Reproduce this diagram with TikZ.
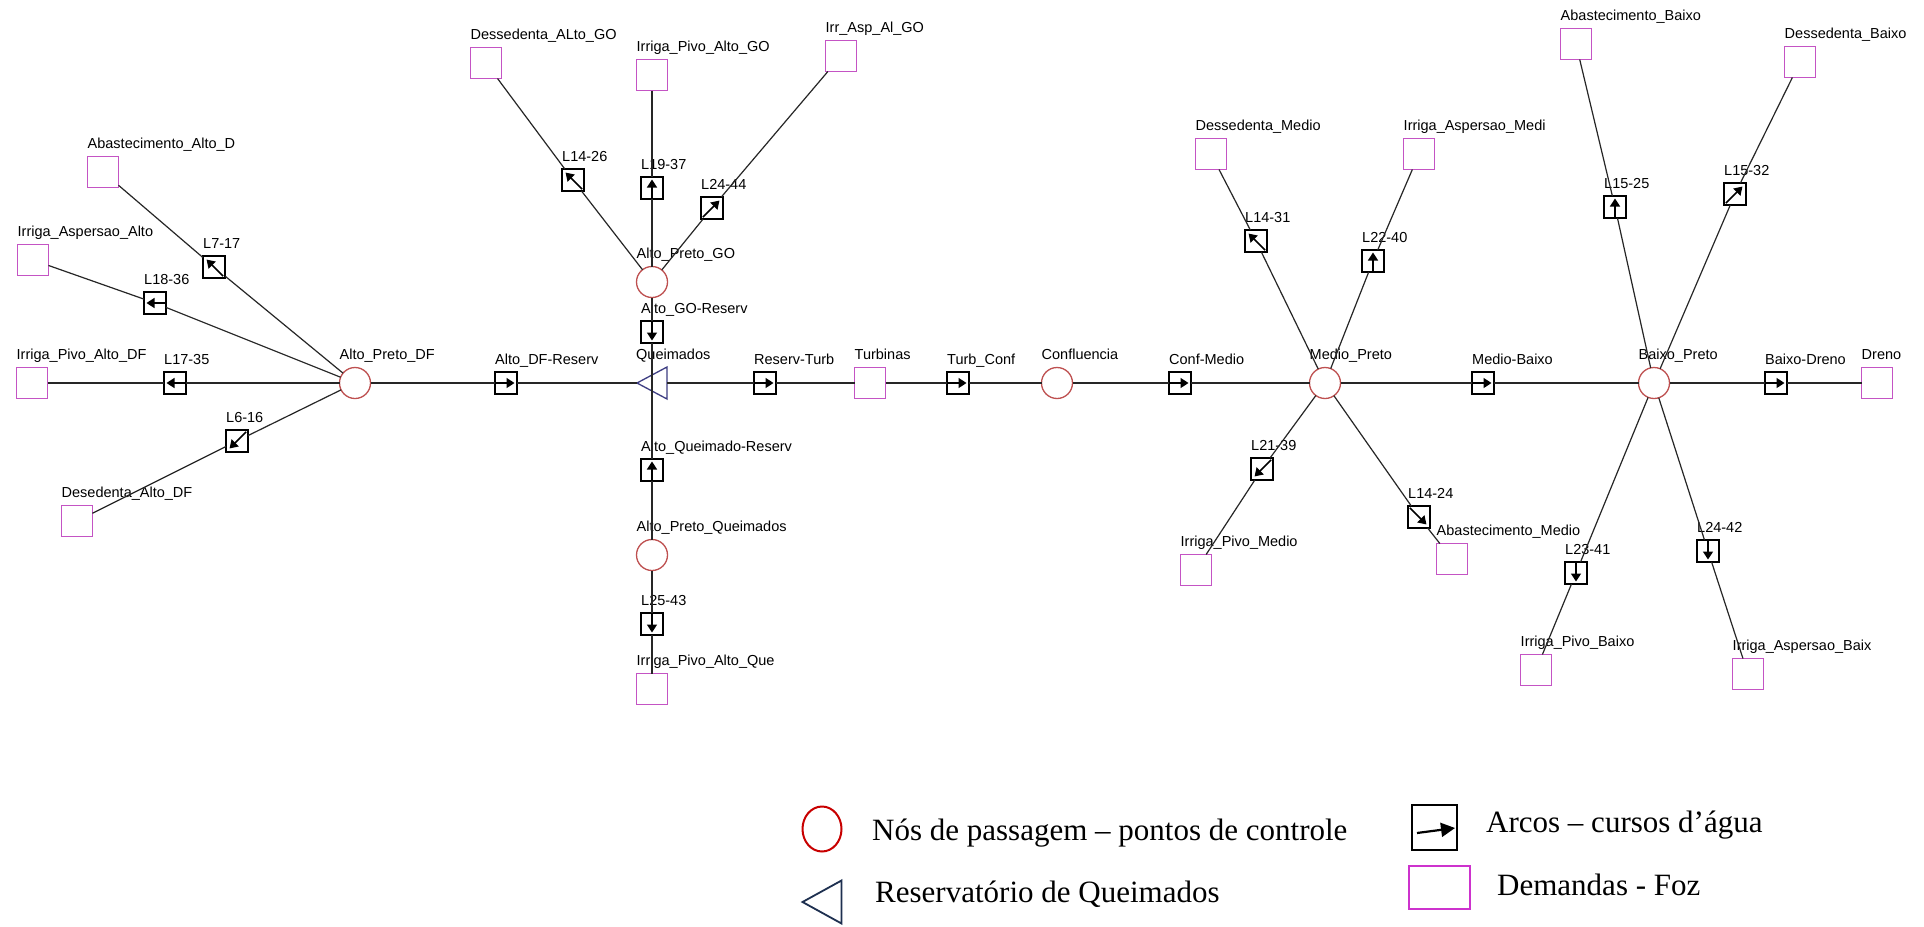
\documentclass[tikz,border=0pt]{standalone}
\usepackage{fontspec}
\setmainfont{Liberation Serif}
\newfontfamily\netfont{Liberation Sans}
\usetikzlibrary{arrows.meta,shapes.geometric}

\definecolor{demandc}{RGB}{196,84,196}
\definecolor{hubc}{RGB}{190,80,80}
\definecolor{resc}{RGB}{60,60,130}
\definecolor{legred}{RGB}{200,0,0}
\definecolor{legnavy}{RGB}{30,48,80}
\definecolor{legpink}{RGB}{205,50,205}

\tikzset{
  demand/.style={rectangle, draw=demandc, line width=1.6pt, fill=white,
    minimum size=31pt, inner sep=0pt, outer sep=0pt},
  hub/.style={circle, draw=hubc, line width=1.3pt, fill=white,
    minimum size=31pt, inner sep=0pt, outer sep=0pt},
  arcbox/.style={rectangle, draw=black, line width=1.4pt, fill=white,
    minimum size=22pt, inner sep=0pt, outer sep=0pt},
  resbox/.style={rectangle, minimum width=30pt, minimum height=32pt,
    inner sep=0pt, outer sep=0pt},
  lbl/.style={anchor=base west, inner sep=0pt,
    font=\netfont\fontsize{14.5}{16}\selectfont},
  flow/.style={line width=1.5pt, -{Triangle[length=8pt,width=10pt]}},
  link/.style={line width=1.2pt, black!85},
  legtext/.style={anchor=base west, inner sep=0pt,
    font=\fontsize{31}{36}\selectfont},
}

% demand node: name, x, y, caption
\newcommand\demandat[4]{%
  \node[demand] (#1) at (#2,#3) {};
  \node[lbl] (#1-l) at ({#2-15.5},{#3-23.5}) {#4};}
% control node (circle)
\newcommand\hubat[4]{%
  \node[hub] (#1) at (#2,#3) {};
  \node[lbl] (#1-l) at ({#2-15.5},{#3-23.5}) {#4};}
% arc box with a straight flow arrow: name, x, y, angle, caption
\newcommand\arcat[5]{%
  \node[arcbox] (#1) at (#2,#3) {};
  \draw[flow, shift={(#2,#3)}, rotate=#4] (-11,0) -- (8.5,0);
  \node[lbl] (#1-l) at ({#2-11},{#3-19}) {#5};}
% arc box with a diagonal flow arrow
\newcommand\diagat[5]{%
  \node[arcbox] (#1) at (#2,#3) {};
  \draw[flow, shift={(#2,#3)}, rotate=#4] (-13,0) -- (10.5,0);
  \node[lbl] (#1-l) at ({#2-11},{#3-19}) {#5};}

\begin{document}
\begin{tikzpicture}[x=1pt, y=-1pt]
\fill[white] (0,0) rectangle (1924,926);
\useasboundingbox (0,0) rectangle (1924,926);

% ---- Alto Preto DF
\demandat{abaltod}{103}{172}{Abastecimento\_Alto\_D}
\demandat{irrasalto}{33}{260}{Irriga\_Aspersao\_Alto}
\demandat{irrpivdf}{32}{383}{Irriga\_Pivo\_Alto\_DF}
\demandat{desaltodf}{77}{521}{Desedenta\_Alto\_DF}
\diagat{l717}{214}{267}{135}{L7-17}
\arcat{l1836}{155}{303}{180}{L18-36}
\arcat{l1735}{175}{383}{180}{L17-35}
\diagat{l616}{237}{441}{225}{L6-16}
\hubat{altopretodf}{355}{383}{Alto\_Preto\_DF}
\arcat{altodfreserv}{506}{383}{0}{Alto\_DF-Reserv}

% ---- Alto Preto GO
\demandat{desaltogo}{486}{63}{Dessedenta\_ALto\_GO}
\demandat{irrpivgo}{652}{75}{Irriga\_Pivo\_Alto\_GO}
\demandat{irraspgo}{841}{56}{Irr\_Asp\_Al\_GO}
\diagat{l1426}{573}{180}{135}{L14-26}
\arcat{l1937}{652}{188}{90}{L19-37}
\diagat{l2444}{712}{208}{45}{L24-44}
\hubat{altopretogo}{652}{282}{Alto\_Preto\_GO}
\arcat{altogoreserv}{652}{332}{270}{Alto\_GO-Reserv}

% ---- Queimados reservoir
\node[resbox] (queimados) at (652,383) {};
\draw[resc, line width=1.3pt] (queimados.west) -- (queimados.north east)
  -- (queimados.south east) -- cycle;
\node[lbl] (queimados-l) at (636,359) {Queimados};

\arcat{altoqreserv}{652}{470}{90}{Alto\_Queimado-Reserv}
\hubat{altopretoq}{652}{555}{Alto\_Preto\_Queimados}
\arcat{l2543}{652}{624}{270}{L25-43}
\demandat{irrpivque}{652}{689}{Irriga\_Pivo\_Alto\_Que}

% ---- main stem
\arcat{reservturb}{765}{383}{0}{Reserv-Turb}
\demandat{turbinas}{870}{383}{Turbinas}
\arcat{turbconf}{958}{383}{0}{Turb\_Conf}
\hubat{confluencia}{1057}{383}{Confluencia}
\arcat{confmedio}{1180}{383}{0}{Conf-Medio}
\hubat{mediopreto}{1325}{383}{Medio\_Preto}
\arcat{mediobaixo}{1483}{383}{0}{Medio-Baixo}
\hubat{baixopreto}{1654}{383}{Baixo\_Preto}
\arcat{baixodreno}{1776}{383}{0}{Baixo-Dreno}
\demandat{dreno}{1877}{383}{Dreno}

% ---- Medio Preto
\demandat{desmedio}{1211}{154}{Dessedenta\_Medio}
\demandat{irraspmedi}{1419}{154}{Irriga\_Aspersao\_Medi}
\diagat{l1431}{1256}{241}{135}{L14-31}
\arcat{l2240}{1373}{261}{90}{L22-40}
\diagat{l2139}{1262}{469}{225}{L21-39}
\diagat{l1424}{1419}{517}{315}{L14-24}
\demandat{irrpivmedio}{1196}{570}{Irriga\_Pivo\_Medio}
\demandat{abmedio}{1452}{559}{Abastecimento\_Medio}

% ---- Baixo Preto
\demandat{abbaixo}{1576}{44}{Abastecimento\_Baixo}
\demandat{desbaixo}{1800}{62}{Dessedenta\_Baixo}
\arcat{l1525}{1615}{207}{90}{L15-25}
\diagat{l1532}{1735}{194}{45}{L15-32}
\arcat{l2341}{1576}{573}{270}{L23-41}
\arcat{l2442}{1708}{551}{270}{L24-42}
\demandat{irrpivbaixo}{1536}{670}{Irriga\_Pivo\_Baixo}
\demandat{irraspbaix}{1748}{674}{Irriga\_Aspersao\_Baix}

% ---- connectors
\draw[link] (abaltod) -- (l717) -- (altopretodf);
\draw[link] (irrasalto) -- (l1836) -- (altopretodf);
\draw[link] (irrpivdf) -- (l1735) -- (altopretodf);
\draw[link] (desaltodf) -- (l616) -- (altopretodf);
\draw[link] (altopretodf) -- (altodfreserv) -- (queimados.west);
\draw[link] (desaltogo) -- (l1426) -- (altopretogo);
\draw[link] (irrpivgo) -- (l1937) -- (altopretogo);
\draw[link] (irraspgo) -- (l2444) -- (altopretogo);
\draw[link] (altopretogo) -- (altogoreserv) -- (queimados.center)
  -- (altoqreserv) -- (altopretoq) -- (l2543) -- (irrpivque);
\draw[link] (queimados.east) -- (reservturb) -- (turbinas) -- (turbconf)
  -- (confluencia) -- (confmedio) -- (mediopreto) -- (mediobaixo)
  -- (baixopreto) -- (baixodreno) -- (dreno);
\draw[link] (desmedio) -- (l1431) -- (mediopreto);
\draw[link] (irraspmedi) -- (l2240) -- (mediopreto);
\draw[link] (irrpivmedio) -- (l2139) -- (mediopreto);
\draw[link] (abmedio) -- (l1424) -- (mediopreto);
\draw[link] (abbaixo) -- (l1525) -- (baixopreto);
\draw[link] (desbaixo) -- (l1532) -- (baixopreto);
\draw[link] (irrpivbaixo) -- (l2341) -- (baixopreto);
\draw[link] (irraspbaix) -- (l2442) -- (baixopreto);

% ---- legend
\node[ellipse, draw=legred, line width=2pt, minimum width=39pt,
  minimum height=45pt, inner sep=0pt] (leghub) at (822,829) {};
\node[legtext] (leghub-t) at (872,840) {Nós de passagem – pontos de controle};
\node[rectangle, minimum width=39pt, minimum height=43pt, inner sep=0pt,
  outer sep=0pt] (legres) at (822,902) {};
\draw[legnavy, line width=1.8pt] (legres.west) -- (legres.north east)
  -- (legres.south east) -- cycle;
\node[legtext] (legres-t) at (875,902) {Reservatório de Queimados};
\node[rectangle, draw=black, line width=2pt, minimum size=45pt,
  inner sep=0pt] (legarc) at (1434.5,827.5) {};
\draw[line width=2.2pt, -{Triangle[length=14pt,width=14pt]}]
  (1417,833) -- (1455,828);
\node[legtext] (legarc-t) at (1486,832) {Arcos – cursos d’água};
\node[rectangle, draw=legpink, line width=2pt, minimum width=61pt,
  minimum height=43pt, inner sep=0pt] (legdem) at (1439.5,887.5) {};
\node[legtext] (legdem-t) at (1497,895) {Demandas - Foz};
\end{tikzpicture}
\end{document}
